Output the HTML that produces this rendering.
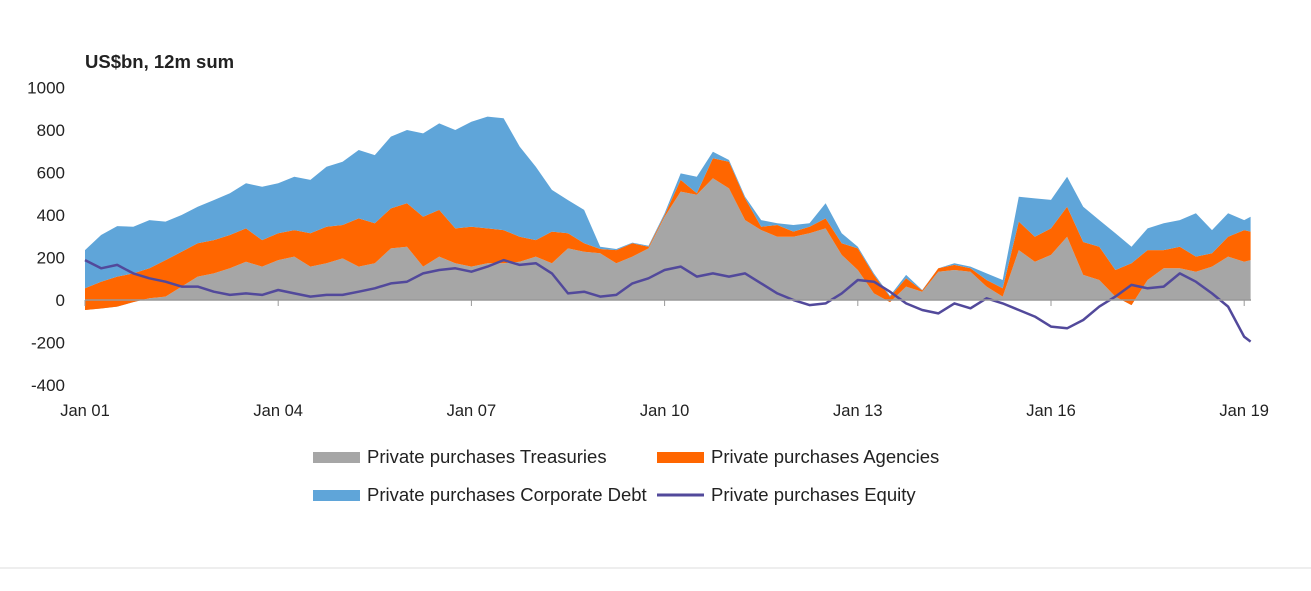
<!DOCTYPE html>
<html><head><meta charset="utf-8"><style>
body{margin:0;background:#fff;font-family:"Liberation Sans",sans-serif}
svg text{font-family:"Liberation Sans",sans-serif;fill:#222}
</style></head><body>
<svg id="c" width="1311" height="586">
<text x="85" y="68" font-size="18.5" font-weight="bold">US$bn, 12m sum</text>
<g id="areas"></g>
<g id="axes"></g>
<g>
<rect x="313" y="452" width="47" height="11" fill="#a6a6a6"/>
<text x="367" y="463" font-size="18.5">Private purchases Treasuries</text>
<rect x="657" y="452" width="47" height="11" fill="#ff6600"/>
<text x="711" y="463" font-size="18.5">Private purchases Agencies</text>
<rect x="313" y="490" width="47" height="11" fill="#5fa5d9"/>
<text x="367" y="501" font-size="18.5">Private purchases Corporate Debt</text>
<line x1="657" y1="495" x2="704" y2="495" stroke="#52499b" stroke-width="3"/>
<text x="711" y="501" font-size="18.5">Private purchases Equity</text>
</g>
<line x1="0" y1="568" x2="1311" y2="568" stroke="#ddd" stroke-width="1"/>
</svg>
<script>
const dates=[2001,2001.25,2001.5,2001.75,2002,2002.25,2002.5,2002.75,2003,2003.25,2003.5,2003.75,2004,2004.25,2004.5,2004.75,2005,2005.25,2005.5,2005.75,2006,2006.25,2006.5,2006.75,2007,2007.25,2007.5,2007.75,2008,2008.25,2008.5,2008.75,2009,2009.25,2009.5,2009.75,2010,2010.25,2010.5,2010.75,2011,2011.25,2011.5,2011.75,2012,2012.25,2012.5,2012.75,2013,2013.25,2013.5,2013.75,2014,2014.25,2014.5,2014.75,2015,2015.25,2015.5,2015.75,2016,2016.25,2016.5,2016.75,2017,2017.25,2017.5,2017.75,2018,2018.25,2018.5,2018.75,2019,2019.1];
const treasuries=[-47,-40,-31,-10,8,16,63,110,125,149,180,157,188,204,157,173,196,157,173,243,251,157,204,173,157,173,173,180,204,173,243,227,220,173,204,243,392,510,495,573,525,376,329,298,298,314,337,212,141,31,-10,63,39,133,141,133,63,16,235,180,212,298,118,94,16,-24,94,149,149,133,157,204,180,188];
const agencies=[102,126,141,135,141,172,164,157,157,157,157,125,126,125,157,172,157,227,188,188,204,235,220,164,188,164,156,118,78,149,71,40,20,62,63,8,8,55,7,94,126,102,16,55,24,31,47,55,102,87,25,39,6,16,24,16,31,39,134,118,125,141,155,157,125,197,141,86,102,71,63,94,149,134];
const corporate=[180,220,238,220,227,181,173,172,188,196,212,251,235,251,251,282,298,322,321,338,345,392,407,463,494,526,526,424,345,196,156,157,11,5,3,4,8,31,78,31,8,8,31,8,31,16,71,47,8,7,5,16,2,0,8,8,31,39,117,180,134,141,166,125,173,78,102,126,125,204,109,110,47,70];
const equity=[188,149,165,125,102,86,63,63,39,24,31,24,47,31,16,24,24,39,55,78,86,125,141,149,133,157,188,165,173,125,31,39,16,24,78,102,141,157,110,125,110,125,78,31,0,-24,-16,31,94,86,39,-16,-47,-63,-16,-39,8,-16,-47,-78,-125,-133,-94,-31,16,71,55,63,125,86,31,-31,-173,-196];
const yTicks=[1000,800,600,400,200,0,-200,-400];
const xTickYears=[2001,2004,2007,2010,2013,2016,2019];
const xTickLabels=["Jan 01","Jan 04","Jan 07","Jan 10","Jan 13","Jan 16","Jan 19"];
const NS="http://www.w3.org/2000/svg";
const X=t=>85+64.4*(t-2001);
const Y=v=>300-v*0.2125;
const areas=document.getElementById('areas'),axes=document.getElementById('axes');
const c1=treasuries.slice(),c2=c1.map((v,i)=>v+agencies[i]),c3=c2.map((v,i)=>v+corporate[i]);
const c0=c1.map(()=>0);
function band(lo,hi,col,name){
  let d='M'+dates.map((t,i)=>X(t).toFixed(1)+','+Y(hi[i]).toFixed(1)).join('L');
  for(let i=dates.length-1;i>=0;i--)d+='L'+X(dates[i]).toFixed(1)+','+Y(lo[i]).toFixed(1);
  const p=document.createElementNS(NS,'path');p.setAttribute('d',d+'Z');p.setAttribute('fill',col);
  
  
  areas.appendChild(p);
}
band(c0,c1,'#a6a6a6','area-treasuries');
band(c1,c2,'#ff6600','area-agencies');
band(c2,c3,'#5fa5d9','area-corporate-debt');
const ax=document.createElementNS(NS,'line');
ax.setAttribute('x1',85);ax.setAttribute('x2',1251);ax.setAttribute('y1',Y(0));ax.setAttribute('y2',Y(0));ax.setAttribute('stroke','#999');ax.setAttribute('stroke-width','1.5');


axes.appendChild(ax);
const ln=document.createElementNS(NS,'polyline');
ln.setAttribute('points',dates.map((t,i)=>X(t).toFixed(1)+','+Y(equity[i]).toFixed(1)).join(' '));
ln.setAttribute('fill','none');ln.setAttribute('stroke','#52499b');ln.setAttribute('stroke-width','2.5');ln.setAttribute('stroke-linejoin','round');


areas.appendChild(ln);
yTicks.forEach(v=>{const t=document.createElementNS(NS,'text');t.setAttribute('x',65);t.setAttribute('y',Y(v)+6);t.setAttribute('text-anchor','end');t.setAttribute('font-size','17');t.textContent=v;


axes.appendChild(t);});
xTickYears.forEach((yr,i)=>{const tk=document.createElementNS(NS,'line');tk.setAttribute('x1',X(yr));tk.setAttribute('x2',X(yr));tk.setAttribute('y1',300);tk.setAttribute('y2',306);tk.setAttribute('stroke','#999');


axes.appendChild(tk);
const t=document.createElementNS(NS,'text');t.setAttribute('x',X(yr));t.setAttribute('y',416);t.setAttribute('text-anchor','middle');t.setAttribute('font-size','16.5');t.textContent=xTickLabels[i];


axes.appendChild(t);});
</script>
</body></html>
